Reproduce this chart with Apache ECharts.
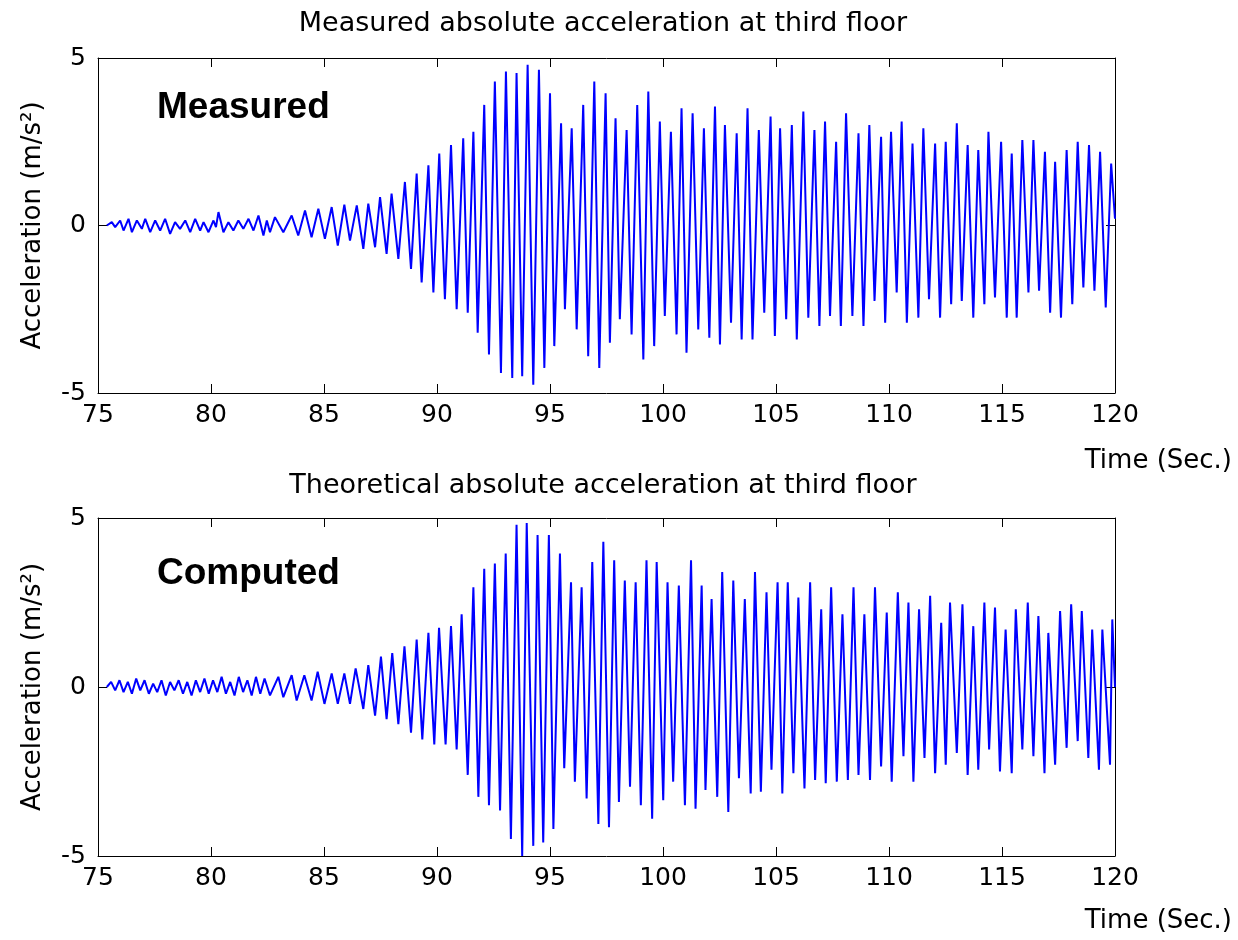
<!DOCTYPE html>
<html>
<head>
<meta charset="utf-8">
<title>Measured vs theoretical acceleration</title>
<script src="https://cdn.jsdelivr.net/npm/echarts@6/dist/echarts.min.js"></script>
<style>
  html, body { margin: 0; padding: 0; background: #fff; }
  #chart { width: 1238px; height: 940px; }
</style>
</head>
<body>
<div id="chart"></div>
<script>
// time axis (sec) and acceleration axis (m/s^2)
var timeRange = [75, 120, 5];
var accRange = [-5, 5, 5];

// measured signal: [time, acceleration] at each read-off peak / trough
var measured = [
  [75.39, 0], [75.61, 0.1], [75.76, -0.05], [75.98, 0.15], [76.13, -0.15], [76.35, 0.2], [76.50, -0.2],
  [76.72, 0.15], [76.94, -0.1], [77.09, 0.2], [77.31, -0.2], [77.53, 0.15], [77.75, -0.15], [77.97, 0.2],
  [78.19, -0.25], [78.41, 0.1], [78.63, -0.1], [78.86, 0.15], [79.08, -0.2], [79.30, 0.2], [79.52, -0.15],
  [79.67, 0.1], [79.89, -0.2], [80.11, 0.15], [80.22, -0.05], [80.33, 0.4], [80.55, -0.2], [80.77, 0.1],
  [80.99, -0.15], [81.21, 0.15], [81.43, -0.1], [81.66, 0.2], [81.88, -0.15], [82.10, 0.3], [82.32, -0.3],
  [82.47, 0.15],
  [82.61, -0.2], [82.83, 0.25], [83.20, -0.2], [83.57, 0.3], [83.86, -0.3], [84.16, 0.45], [84.45, -0.35],
  [84.75, 0.5], [85.04, -0.4], [85.34, 0.55], [85.61, -0.6], [85.90, 0.62], [86.15, -0.45], [86.45, 0.6],
  [86.74, -0.7], [86.96, 0.65], [87.26, -0.65], [87.48, 0.85], [87.77, -0.85], [87.99, 0.95], [88.29, -1.0],
  [88.58, 1.3], [88.85, -1.3], [89.10, 1.55], [89.32, -1.7], [89.62, 1.8], [89.84, -2.0], [90.10, 2.15],
  [90.35, -2.2], [90.62, 2.4], [90.87, -2.5], [91.16, 2.6], [91.36, -2.6], [91.61, 2.8], [91.80, -3.2],
  [92.09, 3.6], [92.30, -3.85], [92.56, 4.3], [92.83, -4.4], [93.05, 4.6], [93.33, -4.55], [93.52, 4.55],
  [93.77, -4.5], [94.01, 4.8], [94.26, -4.75], [94.51, 4.65], [94.75, -4.25], [95.00, 3.95], [95.19, -3.6],
  [95.49, 3.05], [95.66, -2.5], [95.96, 2.9], [96.18, -3.1], [96.47, 3.6], [96.69, -3.9], [96.96, 4.3],
  [97.18, -4.25], [97.46, 3.95],
  [97.65, -3.5], [97.90, 3.2], [98.09, -2.8], [98.39, 2.85], [98.61, -3.25], [98.86, 3.6], [99.13, -4.0],
  [99.35, 4.0], [99.61, -3.6], [99.86, 3.1], [100.08, -2.7], [100.35, 2.8], [100.60, -3.25], [100.82, 3.5],
  [101.04, -3.8], [101.31, 3.35], [101.56, -3.1], [101.81, 2.9], [102.05, -3.35], [102.30, 3.55],
  [102.52, -3.55], [102.74, 3.0], [103.01, -2.9], [103.26, 2.75], [103.48, -3.4], [103.74, 3.5],
  [103.96, -3.4], [104.24, 2.85], [104.48, -2.6], [104.76, 3.25], [104.95, -3.3],
  [105.18, 2.9], [105.45, -2.8], [105.70, 3.0], [105.92, -3.4], [106.21, 3.4], [106.43, -2.75], [106.70, 2.85],
  [106.92, -3.0], [107.17, 3.1], [107.39, -2.7], [107.66, 2.5], [107.87, -3.0], [108.10, 3.35], [108.38, -2.7],
  [108.65, 2.75], [108.87, -3.0], [109.13, 3.0], [109.36, -2.25], [109.65, 2.65], [109.83, -2.9], [110.09, 2.8],
  [110.34, -2.0], [110.56, 3.1], [110.79, -2.9], [111.04, 2.45], [111.30, -2.75], [111.52, 2.9], [111.77, -2.2],
  [112.04, 2.45], [112.26, -2.75], [112.51, 2.5],
  [112.75, -2.35], [113.00, 3.05], [113.22, -2.25], [113.48, 2.4], [113.73, -2.75], [113.95, 2.25],
  [114.22, -2.35], [114.40, 2.8], [114.69, -2.15], [114.96, 2.5], [115.21, -2.75], [115.43, 2.15],
  [115.65, -2.75], [115.90, 2.55], [116.17, -2.0], [116.39, 2.55], [116.64, -1.95], [116.90, 2.2],
  [117.13, -2.6], [117.35, 1.9], [117.61, -2.75], [117.86, 2.25], [118.11, -2.35], [118.35, 2.5],
  [118.60, -1.85], [118.85, 2.4], [119.09, -1.95], [119.34, 2.2], [119.59, -2.45], [119.83, 1.85], [120.0, 0.2]
];

// computed (theoretical) signal: [time, acceleration]
var computed = [
  [75.39, 0], [75.58, 0.15], [75.76, -0.1], [75.95, 0.2], [76.13, -0.15], [76.32, 0.15], [76.50, -0.2],
  [76.69, 0.25], [76.87, -0.1], [77.06, 0.2], [77.25, -0.2], [77.44, 0.1], [77.62, -0.15], [77.81, 0.2],
  [78.00, -0.25], [78.19, 0.15], [78.38, -0.1], [78.57, 0.2], [78.76, -0.2], [78.95, 0.15], [79.14, -0.25],
  [79.33, 0.2], [79.52, -0.15], [79.71, 0.25], [79.90, -0.2], [80.09, 0.2], [80.28, -0.15], [80.47, 0.3],
  [80.66, -0.2], [80.85, 0.15], [81.04, -0.25], [81.23, 0.3], [81.42, -0.15], [81.61, 0.2], [81.80, -0.25],
  [81.99, 0.3], [82.18, -0.2], [82.37, 0.25],
  [82.61, -0.25], [82.98, 0.3], [83.20, -0.3], [83.57, 0.35], [83.79, -0.4], [84.13, 0.35], [84.45, -0.4],
  [84.72, 0.45], [85.02, -0.5], [85.34, 0.4], [85.61, -0.5], [85.90, 0.4], [86.15, -0.5], [86.40, 0.55],
  [86.74, -0.65], [86.96, 0.65], [87.26, -0.85], [87.52, 0.9], [87.77, -0.95], [88.02, 1.0], [88.29, -1.1],
  [88.56, 1.2], [88.85, -1.35], [89.10, 1.4], [89.35, -1.55], [89.62, 1.6], [89.88, -1.7], [90.09, 1.75],
  [90.38, -1.7], [90.62, 1.8], [90.87, -1.85], [91.09, 2.15], [91.36, -2.6], [91.61, 2.95], [91.83, -3.25],
  [92.09, 3.5], [92.30, -3.5], [92.56, 3.65], [92.79, -3.65], [93.04, 3.95], [93.27, -4.5], [93.52, 4.8],
  [93.77, -5.0], [93.97, 4.85], [94.26, -4.7], [94.45, 4.5], [94.70, -4.6], [94.95, 4.5], [95.15, -4.2],
  [95.44, 3.95], [95.63, -2.4], [95.93, 3.1], [96.10, -2.8], [96.40, 2.95], [96.62, -3.3], [96.87, 3.7],
  [97.14, -4.05], [97.36, 4.3],
  [97.61, -4.15], [97.84, 3.75], [98.05, -3.4], [98.31, 3.15], [98.54, -2.95], [98.79, 3.1], [99.02, -3.5],
  [99.27, 3.75], [99.52, -3.9], [99.72, 3.7], [100.01, -3.35], [100.20, 3.1], [100.45, -2.8], [100.70, 3.0],
  [100.97, -3.5], [101.24, 3.75], [101.44, -3.6], [101.71, 3.0], [101.88, -3.05], [102.15, 2.6],
  [102.40, -3.25], [102.62, 3.4], [102.89, -3.7], [103.11, 3.15], [103.36, -2.7], [103.62, 2.6],
  [103.88, -3.15], [104.07, 3.4], [104.33, -3.1], [104.58, 2.8], [104.80, -2.45], [105.07, 3.1],
  [105.28, -3.15], [105.52, 3.1], [105.77, -2.55], [105.99, 2.65], [106.26, -3.0], [106.51, 3.1],
  [106.73, -2.75], [107.00, 2.3], [107.20, -2.85], [107.44, 2.95], [107.69, -2.8], [107.94, 2.15],
  [108.18, -2.75], [108.43, 2.95], [108.65, -2.6], [108.91, 2.15], [109.16, -2.75], [109.38, 2.95],
  [109.65, -2.35], [109.90, 2.2], [110.12, -2.8], [110.39, 2.8], [110.64, -2.05], [110.86, 2.5],
  [111.08, -2.8], [111.33, 2.3], [111.57, -2.1], [111.82, 2.7], [112.04, -2.55], [112.31, 1.9], [112.51, -2.3],
  [112.70, 2.5], [113.00, -1.95], [113.25, 2.45], [113.48, -2.6], [113.73, 1.8], [113.95, -2.45],
  [114.22, 2.5], [114.43, -1.85], [114.69, 2.35], [114.91, -2.5], [115.16, 1.7], [115.43, -2.55],
  [115.61, 2.3], [115.90, -1.85], [116.14, 2.5], [116.39, -2.05], [116.61, 2.1], [116.88, -2.55],
  [117.05, 1.6], [117.35, -2.3], [117.57, 2.25], [117.86, -1.8], [118.06, 2.45], [118.35, -1.6],
  [118.53, 2.25], [118.82, -2.1], [118.99, 1.7], [119.29, -2.45], [119.44, 1.7], [119.78, -2.3],
  [119.88, 2.0], [120.0, 0]
];

var panelTitles = ['Measured absolute acceleration at third floor', 'Theoretical absolute acceleration at third floor'];
var panelTags = ['Measured', 'Computed'];

var FONT = 'DejaVu Sans';

function xAxisFor(grid, pos) {
    return {
        type: 'value',
        gridIndex: grid,
        position: pos,
        min: timeRange[0],
        max: timeRange[1],
        interval: timeRange[2],
        axisLine: { show: true, onZero: false, lineStyle: { color: '#000', width: 1 } },
        axisTick: { show: true, inside: true, length: 9, lineStyle: { color: '#000', width: 1 } },
        axisLabel: {
            show: pos === 'bottom',
            margin: 10,
            color: '#000',
            fontFamily: FONT,
            fontSize: 25
        },
        splitLine: { show: false }
    };
}

function yAxisFor(grid, pos) {
    return {
        type: 'value',
        gridIndex: grid,
        position: pos,
        min: accRange[0],
        max: accRange[1],
        interval: accRange[2],
        name: pos === 'left' ? 'Acceleration (m/s²)' : '',
        nameLocation: 'middle',
        nameGap: 52,
        nameRotate: 90,
        nameTextStyle: { color: '#000', fontFamily: FONT, fontSize: 26 },
        axisLine: { show: true, onZero: false, lineStyle: { color: '#000', width: 1 } },
        axisTick: { show: true, inside: true, length: 9, lineStyle: { color: '#000', width: 1 } },
        axisLabel: {
            show: pos === 'left',
            margin: 12,
            color: '#000',
            fontFamily: FONT,
            fontSize: 25
        },
        splitLine: { show: false }
    };
}

var myChart = echarts.init(document.getElementById('chart'));
var option = {
    backgroundColor: '#fff',
    animation: false,
    grid: [
        { left: 98, top: 58, width: 1017, height: 335 },
        { left: 98, top: 518, width: 1017, height: 338 }
    ],
    xAxis: [xAxisFor(0, 'bottom'), xAxisFor(0, 'top'), xAxisFor(1, 'bottom'), xAxisFor(1, 'top')],
    yAxis: [yAxisFor(0, 'left'), yAxisFor(0, 'right'), yAxisFor(1, 'left'), yAxisFor(1, 'right')],
    graphic: [
        { type: 'text', x: 603, y: 24, style: { text: panelTitles[0], fill: '#000', font: '27px "DejaVu Sans"', textAlign: 'center', textVerticalAlign: 'middle' } },
        { type: 'text', x: 603, y: 486, style: { text: panelTitles[1], fill: '#000', font: '27px "DejaVu Sans"', textAlign: 'center', textVerticalAlign: 'middle' } },
        { type: 'text', x: 157, y: 108, style: { text: panelTags[0], fill: '#000', font: 'bold 37px "Liberation Sans"', textAlign: 'left', textVerticalAlign: 'middle' } },
        { type: 'text', x: 157, y: 574, style: { text: panelTags[1], fill: '#000', font: 'bold 37px "Liberation Sans"', textAlign: 'left', textVerticalAlign: 'middle' } },
        { type: 'text', x: 1232, y: 461, style: { text: 'Time (Sec.)', fill: '#000', font: '26px "DejaVu Sans"', textAlign: 'right', textVerticalAlign: 'middle' } },
        { type: 'text', x: 1232, y: 921, style: { text: 'Time (Sec.)', fill: '#000', font: '26px "DejaVu Sans"', textAlign: 'right', textVerticalAlign: 'middle' } }
    ],
    series: [
        {
            name: 'Measured',
            type: 'line',
            xAxisIndex: 0,
            yAxisIndex: 0,
            data: measured,
            showSymbol: false,
            clip: true,
            lineStyle: { color: '#0000ff', width: 2 }
        },
        {
            name: 'Computed',
            type: 'line',
            xAxisIndex: 2,
            yAxisIndex: 2,
            data: computed,
            showSymbol: false,
            clip: true,
            lineStyle: { color: '#0000ff', width: 2 }
        }
    ]
};
myChart.setOption(option);
</script>
</body>
</html>
